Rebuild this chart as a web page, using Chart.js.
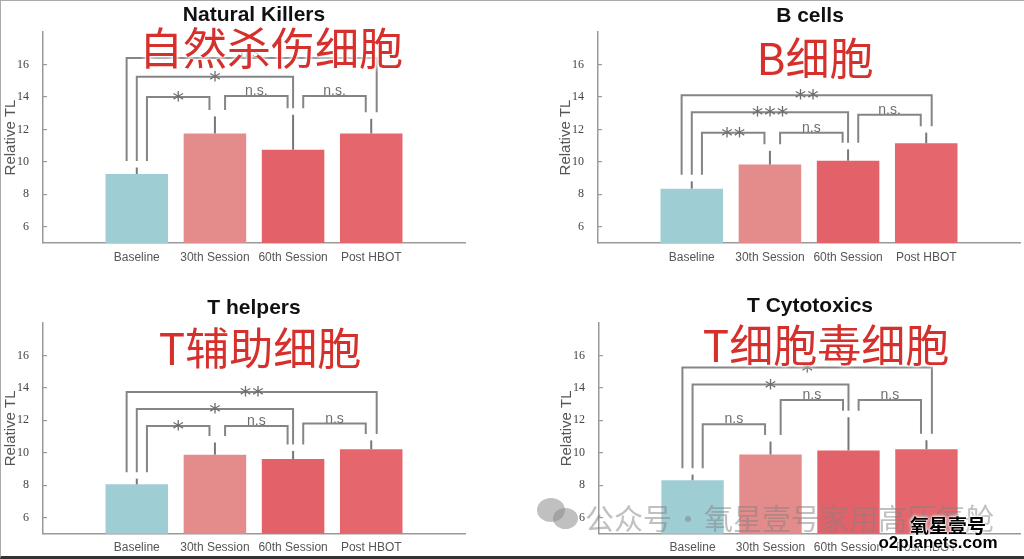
<!DOCTYPE html>
<html lang="zh">
<head>
<meta charset="UTF-8">
<title>Relative TL</title>
<script src="https://cdn.jsdelivr.net/npm/chart.js"></script>
<style>
  body { margin:0; width:1024px; height:559px; position:relative; overflow:hidden; background:#fff;
         font-family:"Liberation Sans", Arial, sans-serif; }
  canvas { position:absolute; }
  .title { position:absolute; transform:translate(-50%,-50%); font-weight:bold; font-size:21px; color:#111; white-space:nowrap; }
  .cn { position:absolute; transform:translate(-50%,-50%); font-family:"Noto Sans CJK SC"; font-weight:400; font-size:44px;
        color:#d5302c; white-space:nowrap; text-shadow:0 0 2px #fff, 0 0 4px #fff, 0 0 6px #fff; }
  .wm { position:absolute; left:585px; top:517px; transform:translateY(-50%); font-family:"Noto Sans CJK SC";
        font-size:29px; word-spacing:-5px; color:rgba(130,130,130,0.5); white-space:nowrap; }
  .wx1, .wx2 { position:absolute; border-radius:50%; background:rgba(140,140,140,0.55); }
  .logo { position:absolute; font-weight:bold; color:#000; white-space:nowrap; transform:translate(-50%,-50%);
          text-shadow:0 0 2px #fff, 0 0 3px #fff, 0 0 4px #fff; }
  .frame { position:absolute; left:0; top:0; width:1024px; height:559px; box-sizing:border-box;
           border-top:1px solid #aaa; border-left:1px solid #aaa; border-bottom:3px solid #333; pointer-events:none; }
</style>
</head>
<body>
<canvas id="nk" width="480" height="285" style="left:0;top:0"></canvas>
<canvas id="bc" width="469" height="285" style="left:555px;top:0"></canvas>
<canvas id="th" width="480" height="268" style="left:0;top:291px"></canvas>
<canvas id="tc" width="468" height="268" style="left:556px;top:291px"></canvas>

<div class="title" style="left:254px;top:14px">Natural Killers</div>
<div class="title" style="left:810px;top:15px">B cells</div>
<div class="title" style="left:254px;top:307px">T helpers</div>
<div class="title" style="left:810px;top:305px">T Cytotoxics</div>

<div class="cn" style="left:271px;top:46px">自然杀伤细胞</div>
<div class="cn" style="left:815px;top:56px">B细胞</div>
<div class="cn" style="left:260px;top:346px">T辅助细胞</div>
<div class="cn" style="left:826px;top:343px">T细胞毒细胞</div>

<div class="wx1" style="left:537px;top:498px;width:28px;height:24px"></div>
<div class="wx2" style="left:553px;top:508px;width:25px;height:21px"></div>
<div class="wm">公众号 · 氧星壹号家用高压氧舱</div>
<div class="logo" style="left:948px;top:524px;font-size:19px;font-family:'Noto Sans CJK SC'">氧星壹号</div>
<div class="logo" style="left:938px;top:543px;font-size:17px">o2planets.com</div>
<div class="frame"></div>

<script>
const categories = ['Baseline', '30th Session', '60th Session', 'Post HBOT'];
const yTicks = [6, 8, 10, 12, 14, 16];
const barColors = ['#9fcdd4', '#e48b8b', '#e3626a', '#e5666c'];

// Natural Killers
const nkMeans = [9.25, 11.75, 10.75, 11.75];
const nkErr = [0.4, 1.05, 2.15, 0.9];
const nkPairs = [[0, 1], [1, 2], [2, 3], [0, 2], [0, 3]];
const nkLevels = [14.0, 14.05, 14.05, 15.25, 16.4];
const nkLabels = ['*', 'n.s.', 'n.s.', '*', 'n.s.'];

// B cells
const bMeans = [8.35, 9.83, 10.07, 11.15];
const bErr = [0.45, 0.85, 0.7, 0.65];
const bPairs = [[0, 1], [1, 2], [2, 3], [0, 2], [0, 3]];
const bLevels = [11.8, 11.8, 12.9, 13.05, 14.1];
const bLabels = ['**', 'n.s', 'n.s.', '***', '**'];

// T helpers
const thMeans = [8.05, 9.88, 9.61, 10.21];
const thErr = [0.35, 0.75, 0.5, 0.55];
const thPairs = [[0, 1], [1, 2], [2, 3], [0, 2], [0, 3]];
const thLevels = [11.65, 11.65, 11.8, 12.7, 13.75];
const thLabels = ['*', 'n.s', 'n.s', '*', '**'];

// T cytotoxics
const tcMeans = [8.3, 9.89, 10.14, 10.22];
const tcErr = [0.35, 0.8, 2.05, 0.55];
const tcPairs = [[0, 1], [1, 2], [2, 3], [0, 2], [0, 3]];
const tcLevels = [11.75, 13.25, 13.25, 14.2, 15.25];
const tcLabels = ['n.s', 'n.s', 'n.s', '*', '*'];

// error bars (upper half only) and significance brackets
const bracketPlugin = {
  id: 'brackets',
  afterDatasetsDraw(chart, args, opts) {
    const { ctx, scales: { x, y } } = chart;
    const p = opts.panel;
    const legTop = i => p.means[i] + p.err[i] + 0.4;
    ctx.save();
    ctx.lineWidth = 2;
    ctx.strokeStyle = '#777';
    p.means.forEach((m, i) => {
      const px = x.getPixelForValue(i + 1);
      ctx.beginPath();
      ctx.moveTo(px, y.getPixelForValue(m));
      ctx.lineTo(px, y.getPixelForValue(m + p.err[i]));
      ctx.stroke();
    });
    ctx.strokeStyle = '#858585';
    ctx.fillStyle = '#6e6e6e';
    ctx.textAlign = 'center';
    p.pairs.forEach(([a, b], k) => {
      const span = b - a;
      const xa = x.getPixelForValue(a + 1 + (2 - span) * 0.13);
      const xb = x.getPixelForValue(b + 1 + (span - 2) * 0.07);
      const yl = y.getPixelForValue(p.levels[k]);
      ctx.beginPath();
      ctx.moveTo(xa, y.getPixelForValue(legTop(a)));
      ctx.lineTo(xa, yl);
      ctx.lineTo(xb, yl);
      ctx.lineTo(xb, y.getPixelForValue(legTop(b)));
      ctx.stroke();
      const lab = p.labels[k];
      const mid = (xa + xb) / 2;
      if (lab.startsWith('*')) {
        ctx.font = '23px "DejaVu Sans", sans-serif';
        ctx.letterSpacing = '1px';
        ctx.fillText(lab, mid + 0.5, yl + 11);
      } else {
        ctx.font = '14px "Liberation Sans", Arial';
        ctx.letterSpacing = '0px';
        ctx.fillText(lab, mid, yl - 1);
      }
    });
    ctx.restore();
  }
};

function makePanel(id, means, err, pairs, levels, labels, padRight, xHeight) {
  new Chart(document.getElementById(id), {
    type: 'bar',
    data: {
      datasets: [{
        data: means.map((v, i) => ({ x: i + 1, y: v })),
        backgroundColor: barColors,
        borderWidth: 0,
        barPercentage: 0.8,
        categoryPercentage: 1
      }]
    },
    options: {
      responsive: false,
      animation: false,
      events: [],
      layout: { padding: { top: 32, right: padRight, left: 0, bottom: 0 } },
      scales: {
        x: {
          type: 'linear',
          min: -0.2,
          max: 5.2,
          offset: false,
          afterBuildTicks: s => { s.ticks = categories.map((c, i) => ({ value: i + 1 })); },
          afterFit: s => { s.height = xHeight; },
          ticks: {
            autoSkip: false,
            maxRotation: 0,
            padding: 7,
            color: '#555',
            font: { family: '"Liberation Sans", Arial', size: 12 },
            callback: v => categories[v - 1]
          },
          grid: { display: true, drawOnChartArea: false, drawTicks: false },
          border: { display: true, color: '#9a9a9a', width: 1.5 }
        },
        y: {
          min: 5,
          max: 18,
          afterBuildTicks: s => { s.ticks = yTicks.map(v => ({ value: v })); },
          afterFit: s => { s.width = 43; },
          ticks: {
            padding: 18,
            color: '#444',
            font: { family: '"Liberation Serif", serif', size: 12 }
          },
          grid: { drawOnChartArea: false, tickLength: -4, color: '#9a9a9a', lineWidth: 1.2 },
          border: { display: true, color: '#9a9a9a', width: 1.5 },
          title: {
            display: true,
            text: 'Relative TL',
            color: '#555',
            padding: { top: 2, bottom: 0 },
            font: { family: '"Liberation Sans", Arial', size: 15 }
          }
        }
      },
      plugins: {
        legend: { display: false },
        tooltip: { enabled: false },
        brackets: { panel: { means, err, pairs, levels, labels } }
      }
    },
    plugins: [bracketPlugin]
  });
}

makePanel('nk', nkMeans, nkErr, nkPairs, nkLevels, nkLabels, 15, 42);
makePanel('bc', bMeans, bErr, bPairs, bLevels, bLabels, 4, 42);
makePanel('th', thMeans, thErr, thPairs, thLevels, thLabels, 15, 25);
makePanel('tc', tcMeans, tcErr, tcPairs, tcLevels, tcLabels, 4, 25);
</script>
</body>
</html>
